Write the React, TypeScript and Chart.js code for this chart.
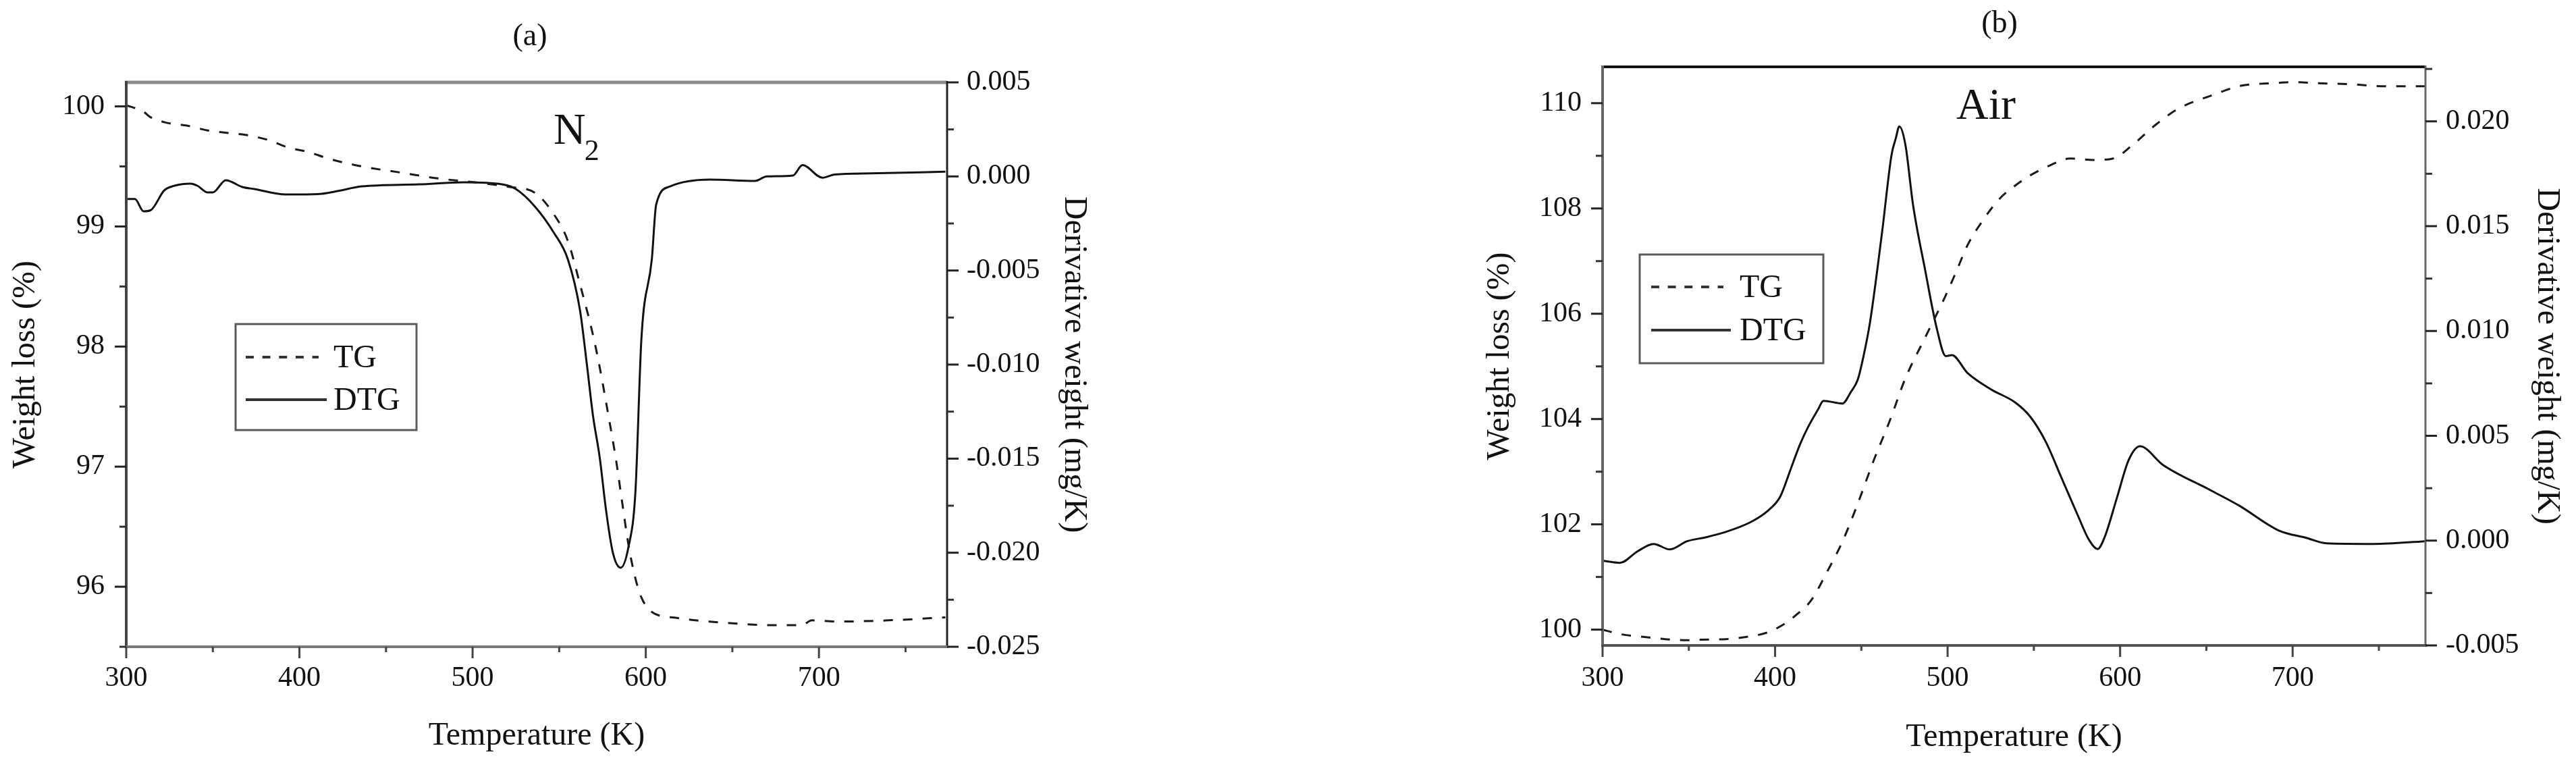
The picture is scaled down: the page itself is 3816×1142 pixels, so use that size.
import React, { useEffect, useRef } from "react";
import { Chart, registerables } from "chart.js";
Chart.register(...registerables);

const FONT = "'Liberation Serif', 'Times New Roman', Times, serif";

// ---------- Panel (a): N2 ----------
const tempTG_N2 = [300, 310, 314, 323, 335, 347, 358, 370, 382, 393, 405, 418, 436, 458, 480, 503, 521, 536, 547, 555, 562, 571, 579, 583, 586.5, 590, 594, 597.5, 603.5, 618, 637, 674, 690, 696, 711, 740, 773];
const tg_N2 = [100.01, 99.955, 99.91, 99.865, 99.84, 99.8, 99.78, 99.76, 99.72, 99.66, 99.62, 99.56, 99.5, 99.45, 99.4, 99.365, 99.33, 99.28, 99.1, 98.88, 98.52, 98.0, 97.38, 97.04, 96.69, 96.35, 96.07, 95.91, 95.79, 95.74, 95.71, 95.68, 95.68, 95.72, 95.71, 95.72, 95.745];
const tempDTG_N2 = [300, 305, 310, 314, 322, 328, 337, 341, 347, 350, 357.5, 367, 374, 392, 400, 413, 422, 436, 469, 495, 517, 525, 536, 547, 555, 562, 566, 569.5, 573.5, 577, 581, 585.5, 590, 594, 597.5, 603.5, 606, 614, 637, 663, 670, 685, 690.5, 702, 709, 730, 773];
const dtg_N2 = [-0.0012, -0.0012, -0.00185, -0.0018, -0.00074, -0.00049, -0.00038, -0.00049, -0.00085, -0.00085, -0.0002, -0.00056, -0.00067, -0.00096, -0.00096, -0.00092, -0.00078, -0.00053, -0.00042, -0.00031, -0.00042, -0.00067, -0.0016, -0.003, -0.0044, -0.0071, -0.01, -0.0127, -0.015, -0.0177, -0.02, -0.0208, -0.0197, -0.0168, -0.0086, -0.0044, -0.0015, -0.00053, -0.00017, -0.00024, 0, 0.00005, 0.0006, -0.00007, 0.0001, 0.00016, 0.00025];

// ---------- Panel (b): Air ----------
const tempTG_Air = [300, 311, 324.5, 336, 349, 358, 371.5, 383, 395, 405, 413, 421, 430, 439, 448, 457, 466.5, 475.5, 487, 498.5, 505, 511.5, 521, 530, 539, 548, 559.5, 571, 584.5, 596, 607, 621, 634, 652.5, 670, 689, 701, 714.5, 734, 753.5, 777];
const tg_Air = [100.0, 99.91, 99.86, 99.82, 99.8, 99.81, 99.82, 99.86, 99.94, 100.1, 100.3, 100.56, 101.09, 101.67, 102.4, 103.2, 103.97, 104.77, 105.55, 106.32, 106.8, 107.3, 107.8, 108.18, 108.43, 108.63, 108.82, 108.95, 108.92, 108.95, 109.2, 109.6, 109.9, 110.14, 110.33, 110.38, 110.4, 110.38, 110.36, 110.32, 110.32];
const tempDTG_Air = [300, 310, 320.5, 329.5, 339, 349, 360, 370, 385.5, 396, 403, 409, 414.5, 419, 425, 428, 439, 444, 448, 451, 455, 462, 467.5, 470, 472, 475.5, 480, 487, 493.5, 499, 502.5, 511.5, 525.5, 539, 548, 557, 566, 575.5, 582, 587, 591, 598, 605, 611.5, 625, 652.5, 669, 692, 708, 719.5, 747, 777];
const dtg_Air = [-0.00096, -0.00106, -0.0005, -0.00016, -0.00042, -0.00003, 0.00016, 0.00038, 0.00087, 0.00144, 0.0021, 0.0034, 0.0046, 0.0054, 0.00627, 0.00667, 0.00654, 0.0071, 0.0077, 0.0087, 0.0104, 0.0147, 0.0184, 0.0192, 0.01976, 0.0189, 0.016, 0.0129, 0.0102, 0.0088, 0.00885, 0.008, 0.0072, 0.0066, 0.0059, 0.0047, 0.003, 0.0012, 0.00003, -0.0004, 0.00016, 0.002, 0.00385, 0.0045, 0.0036, 0.0024, 0.00167, 0.00048, 0.00013, -0.00013, -0.00016, -0.00003];

// ---------- Ticks ----------
const xTicks = [300, 400, 500, 600, 700];
const xMinor = [350, 450, 550, 650, 750];
const leftTicksA = [96, 97, 98, 99, 100];
const leftMinorA = [95.5, 96.5, 97.5, 98.5, 99.5];
const rightTicksA = [-0.025, -0.02, -0.015, -0.01, -0.005, 0, 0.005];
const rightMinorA = [-0.0225, -0.0175, -0.0125, -0.0075, -0.0025, 0.0025];
const leftTicksB = [100, 102, 104, 106, 108, 110];
const leftMinorB = [101, 103, 105, 107, 109];
const rightTicksB = [-0.005, 0, 0.005, 0.01, 0.015, 0.02];
const rightMinorB = [-0.0025, 0.0025, 0.0075, 0.0125, 0.0175, 0.0225];

const legendLabels = ["TG", "DTG"];
const xTitle = "Temperature (K)";
const yTitle = "Weight loss (%)";
const y1Title = "Derivative weight (mg/K)";

type Panel = {
  canvasLeft: number;
  canvasWidth: number;
  plotLeft: number;
  plotRight: number;
  plotTop: number;
  plotBottom: number;
  xMin: number; xMax: number;
  yMin: number; yMax: number;
  y1Min: number; y1Max: number;
  leftTicks: number[]; leftMinor: number[];
  rightTicks: number[]; rightMinor: number[];
  tgX: number[]; tgY: number[]; dtgX: number[]; dtgY: number[];
  label: string; labelX: number; labelY: number;
  gas: string; gasSub: string; gasX: number; gasY: number;
  legend: { x1: number; y1: number; x2: number; y2: number; tgY: number; dtgY: number; lx1: number; tgX2: number; dtgX2: number; textX: number };
  leftTickPad: number; rightTickPad: number; xTickPad: number;
  leftTitlePad: number; rightTitlePad: number; bottomTitlePad: number;
  frame: { top: string; topW: number; left: string; right: string; bottom: string };
};

const H = 1142;

const panelA: Panel = {
  canvasLeft: 0, canvasWidth: 1720,
  plotLeft: 187, plotRight: 1403, plotTop: 122, plotBottom: 958,
  xMin: 300, xMax: 774, yMin: 95.5, yMax: 100.2, y1Min: -0.025, y1Max: 0.005,
  leftTicks: leftTicksA, leftMinor: leftMinorA, rightTicks: rightTicksA, rightMinor: rightMinorA,
  tgX: tempTG_N2, tgY: tg_N2, dtgX: tempDTG_N2, dtgY: dtg_N2,
  label: "(a)", labelX: 785, labelY: 67,
  gas: "N", gasSub: "2", gasX: 820, gasY: 213,
  legend: { x1: 349, y1: 480, x2: 617, y2: 637, tgY: 529, dtgY: 592, lx1: 364, tgX2: 472, dtgX2: 484, textX: 494 },
  leftTickPad: 32, rightTickPad: 29, xTickPad: 22,
  leftTitlePad: 10, rightTitlePad: 101, bottomTitlePad: 23,
  frame: { top: "#8a8a8a", topW: 5, left: "#444", right: "#222", bottom: "#777" },
};

const panelB: Panel = {
  canvasLeft: 2150, canvasWidth: 1666,
  plotLeft: 2374, plotRight: 3593, plotTop: 99, plotBottom: 956,
  xMin: 300, xMax: 777, yMin: 99.7, yMax: 110.69, y1Min: -0.005, y1Max: 0.0226,
  leftTicks: leftTicksB, leftMinor: leftMinorB, rightTicks: rightTicksB, rightMinor: rightMinorB,
  tgX: tempTG_Air, tgY: tg_Air, dtgX: tempDTG_Air, dtgY: dtg_Air,
  label: "(b)", labelX: 2962, labelY: 48,
  gas: "Air", gasSub: "", gasX: 2898, gasY: 176,
  legend: { x1: 2429, y1: 377, x2: 2701, y2: 538, tgY: 425, dtgY: 489, lx1: 2446, tgX2: 2553, dtgX2: 2564, textX: 2577 },
  leftTickPad: 31, rightTickPad: 30, xTickPad: 24,
  leftTitlePad: 44, rightTitlePad: 15, bottomTitlePad: 21,
  frame: { top: "#111", topW: 4, left: "#666", right: "#666", bottom: "#555" },
};

const TG_DASH = [14, 15];

function makeConfig(p: Panel): any {
  const off = p.canvasLeft;
  const tickFont = { family: FONT, size: 42 };
  const titleFont = { family: FONT, size: 48 };

  const deco = {
    id: "deco",
    afterDraw(chart: any) {
      const ctx: CanvasRenderingContext2D = chart.ctx;
      const { left, right, top, bottom } = chart.chartArea;
      const sx = chart.scales.x, sy = chart.scales.y, sy1 = chart.scales.y1;
      const line = (x1: number, y1: number, x2: number, y2: number, c: string, w: number) => {
        ctx.beginPath();
        ctx.strokeStyle = c;
        ctx.lineWidth = w;
        ctx.moveTo(x1, y1);
        ctx.lineTo(x2, y2);
        ctx.stroke();
      };
      ctx.save();
      ctx.setLineDash([]);
      // frame
      line(left - 2, top, right, top, p.frame.top, p.frame.topW);
      line(left, top - 2, left, bottom + 2, p.frame.left, 4);
      line(right, top - 2, right, bottom + 2, p.frame.right, 3);
      line(left - 2, bottom, right + 2, bottom, p.frame.bottom, 4);
      // ticks
      xTicks.forEach((v) => { const px = sx.getPixelForValue(v); line(px, bottom, px, bottom + 17, "#444", 3); });
      xMinor.forEach((v) => { if (v <= p.xMax) { const px = sx.getPixelForValue(v); line(px, bottom, px, bottom + 8, "#444", 3); } });
      p.leftTicks.forEach((v) => { const py = sy.getPixelForValue(v); line(left - 17, py, left, py, "#222", 3); });
      p.leftMinor.forEach((v) => { const py = sy.getPixelForValue(v); line(left - 10, py, left, py, "#333", 3); });
      p.rightTicks.forEach((v) => { const py = sy1.getPixelForValue(v); line(right, py, right + 17, py, "#222", 3); });
      p.rightMinor.forEach((v) => { const py = sy1.getPixelForValue(v); line(right, py, right + 10, py, "#333", 3); });
      // panel label
      ctx.fillStyle = "#111";
      ctx.textAlign = "center";
      ctx.textBaseline = "alphabetic";
      ctx.font = `46px ${FONT}`;
      ctx.fillText(p.label, p.labelX - off, p.labelY);
      // gas label
      ctx.textAlign = "left";
      ctx.font = `66px ${FONT}`;
      ctx.fillText(p.gas, p.gasX - off, p.gasY);
      if (p.gasSub) {
        const w = ctx.measureText(p.gas).width;
        ctx.font = `44px ${FONT}`;
        ctx.fillText(p.gasSub, p.gasX - off + w - 2, p.gasY + 24);
      }
      // legend
      const L = p.legend;
      ctx.strokeStyle = "#5a5a5a";
      ctx.lineWidth = 3;
      ctx.strokeRect(L.x1 - off, L.y1, L.x2 - L.x1, L.y2 - L.y1);
      ctx.setLineDash(TG_DASH.map((d) => d * 0.85));
      line(L.lx1 - off, L.tgY, L.tgX2 - off, L.tgY, "#333", 4);
      ctx.setLineDash([]);
      line(L.lx1 - off, L.dtgY, L.dtgX2 - off, L.dtgY, "#333", 4);
      ctx.fillStyle = "#111";
      ctx.font = `48px ${FONT}`;
      ctx.textBaseline = "middle";
      ctx.fillText(legendLabels[0], L.textX - off, L.tgY + 2);
      ctx.fillText(legendLabels[1], L.textX - off, L.dtgY + 2);
      ctx.restore();
    },
  };

  return {
    type: "line",
    data: {
      datasets: [
        {
          label: legendLabels[0],
          data: p.tgX.map((x, i) => ({ x, y: p.tgY[i] })),
          yAxisID: "y",
          borderColor: "#1a1a1a",
          borderWidth: 3,
          borderDash: TG_DASH,
          pointRadius: 0,
          fill: false,
          cubicInterpolationMode: "monotone",
        },
        {
          label: legendLabels[1],
          data: p.dtgX.map((x, i) => ({ x, y: p.dtgY[i] })),
          yAxisID: "y1",
          borderColor: "#111",
          borderWidth: 3,
          pointRadius: 0,
          fill: false,
          cubicInterpolationMode: "monotone",
        },
      ],
    },
    options: {
      animation: false,
      responsive: false,
      maintainAspectRatio: false,
      events: [],
      layout: { padding: { top: p.plotTop, left: 0, right: 0, bottom: 0 } },
      plugins: { legend: { display: false }, tooltip: { enabled: false }, title: { display: false } },
      scales: {
        x: {
          type: "linear",
          position: "bottom",
          min: p.xMin,
          max: p.xMax,
          afterBuildTicks: (s: any) => { s.ticks = xTicks.map((v) => ({ value: v })); },
          afterFit: (s: any) => { s.height = H - p.plotBottom; },
          grid: { display: false, drawTicks: false },
          border: { display: false },
          ticks: { padding: p.xTickPad, font: tickFont, color: "#111", maxRotation: 0, autoSkip: false, callback: (v: any) => String(v) },
          title: { display: true, text: xTitle, font: titleFont, color: "#111", padding: { top: 0, bottom: p.bottomTitlePad } },
        },
        y: {
          type: "linear",
          position: "left",
          min: p.yMin,
          max: p.yMax,
          afterBuildTicks: (s: any) => { s.ticks = p.leftTicks.map((v) => ({ value: v })); },
          afterFit: (s: any) => { s.width = p.plotLeft - p.canvasLeft; },
          grid: { display: false, drawTicks: false },
          border: { display: false },
          ticks: { padding: p.leftTickPad, font: tickFont, color: "#111", autoSkip: false, callback: (v: any) => String(v) },
          title: { display: true, text: yTitle, font: titleFont, color: "#111", padding: { top: p.leftTitlePad, bottom: 0 } },
        },
        y1: {
          type: "linear",
          position: "right",
          min: p.y1Min,
          max: p.y1Max,
          afterBuildTicks: (s: any) => { s.ticks = p.rightTicks.map((v) => ({ value: v })); },
          afterFit: (s: any) => { s.width = p.canvasLeft + p.canvasWidth - p.plotRight; },
          grid: { display: false, drawTicks: false },
          border: { display: false },
          ticks: { padding: p.rightTickPad, font: tickFont, color: "#111", autoSkip: false, callback: (v: any) => Number(v).toFixed(3) },
          title: { display: true, text: y1Title, font: titleFont, color: "#111", padding: { top: p.rightTitlePad, bottom: 0 } },
        },
      },
    },
    plugins: [deco],
  };
}

function PanelChart({ p }: { p: Panel }) {
  const ref = useRef<HTMLCanvasElement | null>(null);
  useEffect(() => {
    if (!ref.current) return;
    const chart = new Chart(ref.current, makeConfig(p));
    return () => chart.destroy();
  }, [p]);
  return (
    <canvas
      ref={ref}
      width={p.canvasWidth}
      height={H}
      style={{ position: "absolute", left: p.canvasLeft, top: 0, width: p.canvasWidth, height: H }}
    />
  );
}

export default function App() {
  return (
    <div style={{ position: "absolute", left: 0, top: 0, width: 3816, height: H, background: "#fff", overflow: "hidden" }}>
      <PanelChart p={panelA} />
      <PanelChart p={panelB} />
    </div>
  );
}
